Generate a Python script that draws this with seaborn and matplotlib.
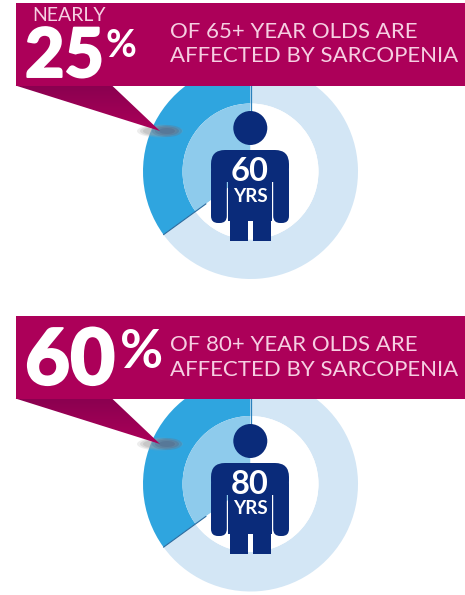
import numpy as np
import matplotlib
matplotlib.use("Agg")
import matplotlib.pyplot as plt
import matplotlib.patheffects as pe
from matplotlib.patches import Rectangle, Polygon, Ellipse, Circle, FancyBboxPatch
from matplotlib.colors import LinearSegmentedColormap
import seaborn as sns

# ---- data ----
ring_share = [35, 65]            # highlighted share of each ring (as drawn)
ages = ["60", "80"]
unit = "YRS"
big_numbers = ["25", "60"]
percent = "%"
prefix = ["NEARLY", ""]
line1 = ["OF 65+ YEAR OLDS ARE", "OF 80+ YEAR OLDS ARE"]
line2 = ["AFFECTED BY SARCOPENIA", "AFFECTED BY SARCOPENIA"]

W, H = 465, 595
RING = "#2FA5DF"; RING_L = "#D3E6F5"; INNER = "#8ECBEC"; NAVY = "#0A2B7A"
BANNER = "#AC0059"; TAIL = "#8A0050"; PINK = "#F6CFE2"

sns.set_theme(style="white")
plt.rcParams["font.family"] = ["Lato", "DejaVu Sans"]

fig = plt.figure(figsize=(W / 100, H / 100), dpi=100, facecolor="white")
ax = fig.add_axes([0, 0, 1, 1])


def Y(y):
    return H - y


def rrect(x0, y0, x1, y1, r, z):
    ax.add_patch(FancyBboxPatch((x0 + r, Y(y1) + r), x1 - x0 - 2 * r, y1 - y0 - 2 * r,
                                boxstyle=f"round,pad={r}", fc=NAVY, ec="none", zorder=z))


def panel(i, cy, dy, big_xy, big_fs, pct_xy, pct_fs, line2_y):
    cx = 250.5
    ax.pie(ring_share, colors=[RING, RING_L], startangle=90, counterclock=True,
           center=(cx, Y(cy)), radius=107.5, wedgeprops=dict(linewidth=0), frame=True)
    ax.add_patch(Circle((cx, Y(cy)), 68, fc="white", ec="none", zorder=2))
    ax.pie(ring_share, colors=[INNER, "white"], startangle=90, counterclock=True,
           center=(cx, Y(cy)), radius=68, wedgeprops=dict(linewidth=0, zorder=3), frame=True)
    ang = np.deg2rad(90 + 360 * ring_share[0] / sum(ring_share))
    ax.plot([cx + 107.5 * np.cos(ang), cx + 55 * np.cos(ang)],
            [Y(cy) + 107.5 * np.sin(ang), Y(cy) + 55 * np.sin(ang)],
            color="#2A6A9E", lw=0.8, zorder=4)
    ax.plot([cx, cx], [Y(cy) + 107.5, Y(cy) + 50], color="#2A80BC", lw=0.9, zorder=4)

    # person
    z = 6
    ax.add_patch(Circle((250.3, Y(128 + dy)), 17, fc=NAVY, ec="none", zorder=z))
    rrect(211, 150 + dy, 289, 182 + dy, 14, z)
    rrect(211, 165 + dy, 226.8, 223 + dy, 7, z)
    rrect(273.2, 165 + dy, 289, 223 + dy, 7, z)
    ax.add_patch(Rectangle((229.5, Y(241 + dy)), 18, 70, fc=NAVY, ec="none", zorder=z))
    ax.add_patch(Rectangle((252.5, Y(241 + dy)), 18.5, 70, fc=NAVY, ec="none", zorder=z))
    ax.add_patch(Rectangle((228.2, Y(221 + dy)), 43.6, 50, fc=NAVY, ec="none", zorder=z))
    ax.text(250, Y(171.5 + dy), ages[i], color="white", fontsize=23.5, fontweight="bold",
            ha="center", va="center", zorder=7)
    ax.text(250, Y(196 + dy), unit, color="white", fontsize=13.5, fontweight="bold",
            ha="center", va="center", zorder=7)

    # soft shadow at the tip
    for w, h, a in [(46, 13, 0.18), (40, 11, 0.25), (34, 9, 0.3)]:
        ax.add_patch(Ellipse((160, Y(131 + dy)), w, h, fc="#A0A0A0", ec="none", alpha=a, zorder=4.5))
    for w, h, a in [(30, 12, 0.25), (24, 9, 0.3), (16, 6, 0.35)]:
        ax.add_patch(Ellipse((167, Y(131 + dy)), w, h, fc="#4C6488", ec="none", alpha=a, zorder=4.6))

    # banner and tail
    tail = Polygon([(15.5, Y(85.5 + dy)), (112, Y(85.5 + dy)), (160, Y(131 + dy))],
                   closed=True, fc="none", ec="none", zorder=5)
    ax.add_patch(tail)
    cmap = LinearSegmentedColormap.from_list("tail", [TAIL, BANNER])
    im = ax.imshow(np.linspace(0, 1, 64).reshape(-1, 1), cmap=cmap, aspect="auto",
                   extent=(15, 165, Y(132 + dy), Y(85 + dy)), zorder=5)
    im.set_clip_path(tail)
    ax.add_patch(Rectangle((15.5, Y(85.5 + dy)), W - 15.5, 82.5, fc=BANNER, ec="none", zorder=8))

    # banner text
    if prefix[i]:
        ax.text(32, Y(15.5 + dy), prefix[i], color=PINK, fontsize=14, ha="left",
                va="center", zorder=9)
    ax.text(big_xy[0], Y(big_xy[1] + dy), big_numbers[i], color="white", fontsize=big_fs,
            fontweight="black", ha="left", va="baseline", zorder=9,
            path_effects=[pe.withStroke(linewidth=1.4, foreground="white")])
    ax.text(pct_xy[0], Y(pct_xy[1] + dy), percent, color="white", fontsize=pct_fs,
            fontweight="bold", ha="left", va="baseline", zorder=9)
    ax.text(170, Y(38 + dy), line1[i], color=PINK, fontsize=16,
            ha="left", va="baseline", zorder=9)
    ax.text(170, Y(line2_y + dy), line2[i], color=PINK, fontsize=16,
            ha="left", va="baseline", zorder=9)


panel(0, 171.5, 0, (25, 77), 49, (105, 57), 27, 62)
panel(1, 484, 313, (25, 71.5), 56, (120, 55), 38, 63)

ax.set_xlim(0, W)
ax.set_ylim(0, H)
ax.set_aspect("auto")
ax.axis("off")
fig.savefig("out.png", dpi=100, facecolor="white")
